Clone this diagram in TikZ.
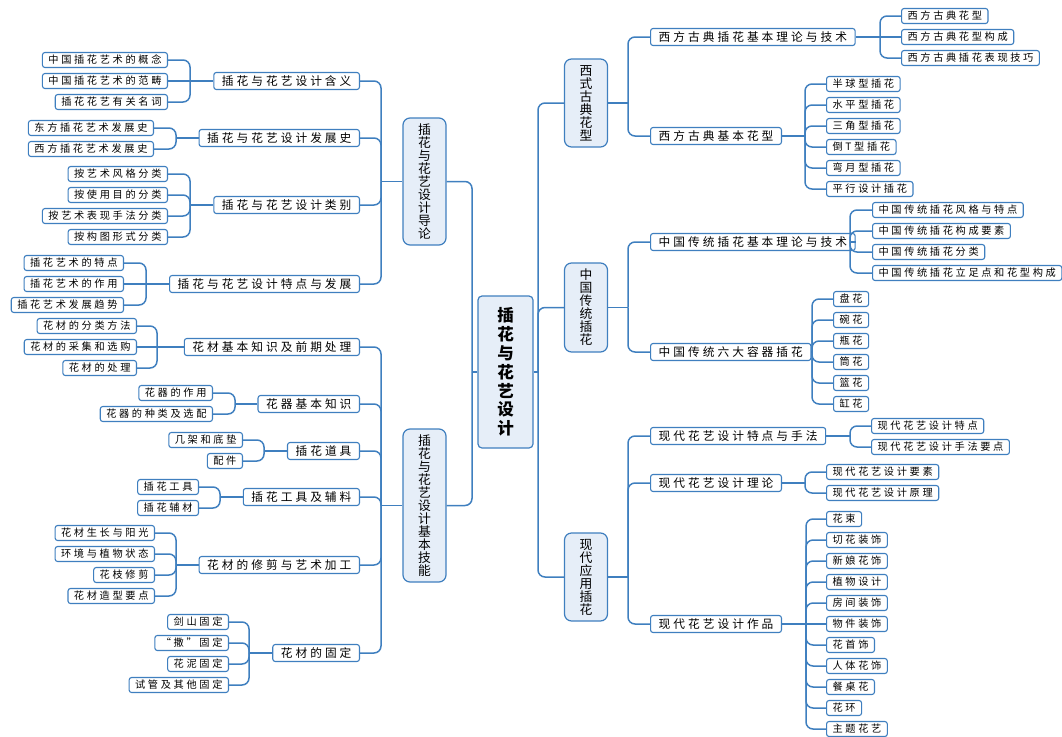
\documentclass[tikz,border=0pt]{standalone}
\usepackage{fontspec}
\usepackage{tikz}
\usetikzlibrary{calc}
\newfontfamily\cjk{Noto Sans CJK SC}[LetterSpace=26]
\newfontfamily\cjkplain{Noto Sans CJK SC}
\definecolor{mmblue}{HTML}{3F7FBF}
\definecolor{mmfill}{HTML}{E6EEF8}
\tikzset{
  rootBox/.style={draw=mmblue, fill=mmfill, rounded corners=4pt, line width=1.2pt, minimum width=55pt, minimum height=152pt, align=center, font=\cjkplain\bfseries\fontsize{16.5}{18.8}\selectfont},
  mainBox/.style={draw=mmblue, fill=mmfill, rounded corners=7pt, line width=1.2pt, minimum width=43pt, align=center, font=\cjkplain\fontsize{12.8}{13}\selectfont},
  subBox/.style={draw=mmblue, fill=white, rounded corners=2.5pt, line width=1.1pt, minimum height=17pt, inner xsep=8pt, inner ysep=0pt, font=\cjk\fontsize{11.7}{13}\selectfont},
  leafBox/.style={draw=mmblue, fill=white, rounded corners=2.5pt, line width=1.1pt, minimum height=15pt, inner xsep=6pt, inner ysep=0pt, font=\cjk\fontsize{10.2}{12}\selectfont},
  linkLine/.style={draw=mmblue, line width=1.5pt, rounded corners=7pt}
}

\begin{document}
\begin{tikzpicture}[x=1pt,y=-1pt]
  \useasboundingbox (0,0) rectangle (1062,736);
  \foreach \c/\x in {lt/472,lt2/381,rt/538,rt2/628,wt1/880,wt2/805,ct1/850,ct2/812,mt1/850,mt2/805,mt3/806,at1/190,at2/176,at3/190,at4/146,bt1/157,bt2/235,bt3/264,bt4/220,bt5/176,bt6/249}
    \coordinate (\c) at (\x,0);

  \node[rootBox] (root) at (505.5,372) {插\\花\\与\\花\\艺\\设\\计};
  \node[mainBox, minimum height=88pt] (west) at (586,103) {西\\式\\古\\典\\花\\型};
  \node[mainBox, minimum height=89pt] (china) at (586,307.5) {中\\国\\传\\统\\插\\花};
  \node[mainBox, minimum height=88pt] (modern) at (586,577) {现\\代\\应\\用\\插\\花};
  \node[mainBox, minimum height=127pt] (intro) at (424.5,181.5) {插\\花\\与\\花\\艺\\设\\计\\导\\论};
  \node[mainBox, minimum height=153pt] (skill) at (424.5,505.5) {插\\花\\与\\花\\艺\\设\\计\\基\\本\\技\\能};

  \draw[linkLine] (root.east) -- (root.east -| rt);
  \foreach \n in {west,china,modern}
    \draw[linkLine] (root.east -| rt) |- (\n.west);
  \draw[linkLine] (root.west) -- (root.west -| lt);
  \foreach \n in {intro,skill}
    \draw[linkLine] (root.west -| lt) |- (\n.east);

  \foreach \n/\y/\t/\p in {w1/37/西方古典插花基本理论与技术/west,w2/136/西方古典基本花型/west,c1/242/中国传统插花基本理论与技术/china,c2/352/中国传统六大容器插花/china,m1/436/现代花艺设计特点与手法/modern,m2/483/现代花艺设计理论/modern,m3/624/现代花艺设计作品/modern}
  {
    \node[subBox, anchor=west] (\n) at (650,\y) {\t};
    \draw[linkLine] (\p.east -| rt2) |- (\n.west);
  }
  \foreach \p in {west,china,modern}
    \draw[linkLine] (\p.east) -- (\p.east -| rt2);

  \foreach \n/\y/\t/\p in {a1/81/插花与花艺设计含义/intro,a2/138/插花与花艺设计发展史/intro,a3/205/插花与花艺设计类别/intro,a4/284/插花与花艺设计特点与发展/intro,b1/347/花材基本知识及前期处理/skill,b2/404/花器基本知识/skill,b3/451/插花道具/skill,b4/497/插花工具及辅料/skill,b5/565/花材的修剪与艺术加工/skill,b6/653/花材的固定/skill}
  {
    \node[subBox, anchor=east] (\n) at (360,\y) {\t};
    \draw[linkLine] (\p.west -| lt2) |- (\n.east);
  }
  \foreach \p in {intro,skill}
    \draw[linkLine] (\p.west) -- (\p.west -| lt2);

  \node[leafBox, anchor=west] (w12) at (901,37) {西方古典花型构成};
  \draw[linkLine] (w1.east) -- (w12.west);
  \foreach \n/\y/\t in {w11/16/西方古典花型,w13/58/西方古典插花表现技巧}
  {
    \node[leafBox, anchor=west] (\n) at (901,\y) {\t};
    \draw[linkLine] (w1.east -| wt1) |- (\n.west);
  }
  \draw[linkLine] (w2.east) -- (w2.east -| wt2);
  \foreach \n/\y/\t in {w21/84/半球型插花,w22/105/水平型插花,w23/126/三角型插花,w24/147/倒T型插花,w25/168/弯月型插花,w26/189/平行设计插花}
  {
    \node[leafBox, anchor=west] (\n) at (826,\y) {\t};
    \draw[linkLine] (w2.east -| wt2) |- (\n.west);
  }
  \draw[linkLine] (c1.east) -- (c1.east -| ct1);
  \foreach \n/\y/\t in {c11/210/中国传统插花风格与特点,c12/231/中国传统插花构成要素,c13/252/中国传统插花分类,c14/273/中国传统插花立足点和花型构成}
  {
    \node[leafBox, anchor=west] (\n) at (872,\y) {\t};
    \draw[linkLine] (c1.east -| ct1) |- (\n.west);
  }
  \draw[linkLine] (c2.east) -- (c2.east -| ct2);
  \foreach \n/\y/\t in {c21/299/盘花,c22/320/碗花,c23/341/瓶花,c24/362/筒花,c25/383/篮花,c26/404/缸花}
  {
    \node[leafBox, anchor=west] (\n) at (833,\y) {\t};
    \draw[linkLine] (c2.east -| ct2) |- (\n.west);
  }
  \draw[linkLine] (m1.east) -- (m1.east -| mt1);
  \foreach \n/\y/\t in {m11/426/现代花艺设计特点,m12/447/现代花艺设计手法要点}
  {
    \node[leafBox, anchor=west] (\n) at (871,\y) {\t};
    \draw[linkLine] (m1.east -| mt1) |- (\n.west);
  }
  \draw[linkLine] (m2.east) -- (m2.east -| mt2);
  \foreach \n/\y/\t in {m21/472/现代花艺设计要素,m22/493/现代花艺设计原理}
  {
    \node[leafBox, anchor=west] (\n) at (826,\y) {\t};
    \draw[linkLine] (m2.east -| mt2) |- (\n.west);
  }
  \node[leafBox, anchor=west] (m36) at (826,624) {物件装饰};
  \draw[linkLine] (m3.east) -- (m36.west);
  \foreach \n/\y/\t in {m31/519/花束,m32/540/切花装饰,m33/561/新娘花饰,m34/582/植物设计,m35/603/房间装饰,m37/645/花首饰,m38/666/人体花饰,m39/687/餐桌花,m310/708/花环,m311/729/主题花艺}
  {
    \node[leafBox, anchor=west] (\n) at (826,\y) {\t};
    \draw[linkLine] (m3.east -| mt3) |- (\n.west);
  }

  \node[leafBox, anchor=east] (a12) at (168,81) {中国插花艺术的范畴};
  \draw[linkLine] (a1.west) -- (a12.east);
  \foreach \n/\y/\t in {a11/60/中国插花艺术的概念,a13/102/插花花艺有关名词}
  {
    \node[leafBox, anchor=east] (\n) at (168,\y) {\t};
    \draw[linkLine] (a1.west -| at1) |- (\n.east);
  }
  \draw[linkLine] (a2.west) -- (a2.west -| at2);
  \foreach \n/\y/\t in {a21/128/东方插花艺术发展史,a22/149/西方插花艺术发展史}
  {
    \node[leafBox, anchor=east] (\n) at (154,\y) {\t};
    \draw[linkLine] (a2.west -| at2) |- (\n.east);
  }
  \draw[linkLine] (a3.west) -- (a3.west -| at3);
  \foreach \n/\y/\t in {a31/174/按艺术风格分类,a32/195/按使用目的分类,a33/216/按艺术表现手法分类,a34/237/按构图形式分类}
  {
    \node[leafBox, anchor=east] (\n) at (168,\y) {\t};
    \draw[linkLine] (a3.west -| at3) |- (\n.east);
  }
  \node[leafBox, anchor=east] (a42) at (124,284) {插花艺术的作用};
  \draw[linkLine] (a4.west) -- (a42.east);
  \foreach \n/\y/\t in {a41/263/插花艺术的特点,a43/305/插花艺术发展趋势}
  {
    \node[leafBox, anchor=east] (\n) at (124,\y) {\t};
    \draw[linkLine] (a4.west -| at4) |- (\n.east);
  }
  \node[leafBox, anchor=east] (b12) at (137,347) {花材的采集和选购};
  \draw[linkLine] (b1.west) -- (b12.east);
  \foreach \n/\y/\t in {b11/326/花材的分类方法,b13/368/花材的处理}
  {
    \node[leafBox, anchor=east] (\n) at (137,\y) {\t};
    \draw[linkLine] (b1.west -| bt1) |- (\n.east);
  }
  \draw[linkLine] (b2.west) -- (b2.west -| bt2);
  \foreach \n/\y/\t in {b21/393/花器的作用,b22/414/花器的种类及选配}
  {
    \node[leafBox, anchor=east] (\n) at (213,\y) {\t};
    \draw[linkLine] (b2.west -| bt2) |- (\n.east);
  }
  \draw[linkLine] (b3.west) -- (b3.west -| bt3);
  \foreach \n/\y/\t in {b31/440/几架和底垫,b32/461/配件}
  {
    \node[leafBox, anchor=east] (\n) at (243,\y) {\t};
    \draw[linkLine] (b3.west -| bt3) |- (\n.east);
  }
  \draw[linkLine] (b4.west) -- (b4.west -| bt4);
  \foreach \n/\y/\t in {b41/487/插花工具,b42/508/插花辅材}
  {
    \node[leafBox, anchor=east] (\n) at (199,\y) {\t};
    \draw[linkLine] (b4.west -| bt4) |- (\n.east);
  }
  \draw[linkLine] (b5.west) -- (b5.west -| bt5);
  \foreach \n/\y/\t in {b51/533/花材生长与阳光,b52/554/环境与植物状态,b53/575/花枝修剪,b54/596/花材造型要点}
  {
    \node[leafBox, anchor=east] (\n) at (155,\y) {\t};
    \draw[linkLine] (b5.west -| bt5) |- (\n.east);
  }
  \draw[linkLine] (b6.west) -- (b6.west -| bt6);
  \foreach \n/\y/\t in {b61/622/剑山固定,b62/643/“撒”固定,b63/664/花泥固定,b64/685/试管及其他固定}
  {
    \node[leafBox, anchor=east] (\n) at (229,\y) {\t};
    \draw[linkLine] (b6.west -| bt6) |- (\n.east);
  }
\end{tikzpicture}
\end{document}
